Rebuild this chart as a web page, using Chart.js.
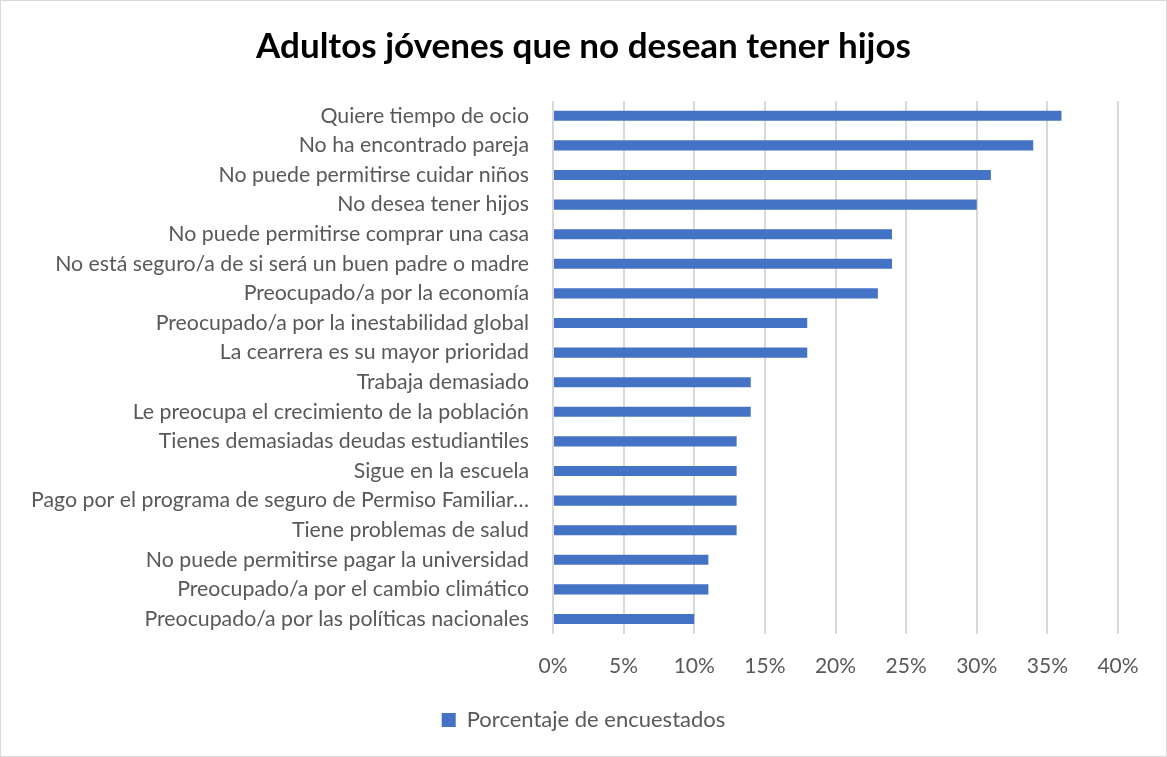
<!DOCTYPE html>
<html>
<head>
<meta charset="utf-8">
<script src="https://cdn.jsdelivr.net/npm/chart.js@4"></script>
<style>
  html, body { margin: 0; padding: 0; background: #fff; }
  #wrap { position: absolute; left: 0; top: 0; width: 1165px; height: 755px; border: 1px solid #d9d9d9; }
  canvas { display: block; }
</style>
</head>
<body>
<div id="wrap"><canvas id="chart" width="1165" height="755"></canvas></div>
<script>
const categories = [
  'Quiere tiempo de ocio',
  'No ha encontrado pareja',
  'No puede permitirse cuidar niños',
  'No desea tener hijos',
  'No puede permitirse comprar una casa',
  'No está seguro/a de si será un buen padre o madre',
  'Preocupado/a por la economía',
  'Preocupado/a por la inestabilidad global',
  'La cearrera es su mayor prioridad',
  'Trabaja demasiado',
  'Le preocupa el crecimiento de la población',
  'Tienes demasiadas deudas estudiantiles',
  'Sigue en la escuela',
  'Pago por el programa de seguro de Permiso Familiar…',
  'Tiene problemas de salud',
  'No puede permitirse pagar la universidad',
  'Preocupado/a por el cambio climático',
  'Preocupado/a por las políticas nacionales'
];
const seriesName = 'Porcentaje de encuestados';
const values = [36, 34, 31, 30, 24, 24, 23, 18, 18, 14, 14, 13, 13, 13, 13, 11, 11, 10];
const tickMax = 40;
const tickStep = 5;

const font = "Lato, 'Open Sans', sans-serif";

new Chart(document.getElementById('chart').getContext('2d'), {
  type: 'bar',
  data: {
    labels: categories,
    datasets: [{
      label: seriesName,
      data: values,
      backgroundColor: '#4472C4',
      barPercentage: 0.34,
      categoryPercentage: 1
    }]
  },
  options: {
    indexAxis: 'y',
    responsive: false,
    animation: false,
    layout: { padding: { left: 20, right: 20, top: 0, bottom: 15 } },
    plugins: {
      title: {
        display: true,
        text: 'Adultos jóvenes que no desean tener hijos',
        color: '#000',
        font: { family: font, size: 35, weight: 'bold' },
        padding: { top: 25, bottom: 33 }
      },
      legend: {
        position: 'bottom',
        labels: {
          color: '#595959',
          font: { family: font, size: 22 },
          boxWidth: 14,
          boxHeight: 14,
          padding: 10
        }
      },
      tooltip: { enabled: false }
    },
    scales: {
      x: {
        min: 0,
        max: tickMax,
        ticks: {
          stepSize: tickStep,
          color: '#595959',
          font: { family: font, size: 21 },
          padding: 20,
          callback: v => v + '%'
        },
        grid: { color: '#d9d9d9', lineWidth: 2, drawTicks: false },
        border: { display: false },
        afterFit: s => { s.paddingRight = 48; }
      },
      y: {
        ticks: {
          color: '#595959',
          font: { family: font, size: 21.3 },
          padding: 16,
          autoSkip: false
        },
        grid: { display: false },
        border: { display: false },
        afterFit: s => { s.width = 532; }
      }
    }
  }
});
</script>
</body>
</html>
